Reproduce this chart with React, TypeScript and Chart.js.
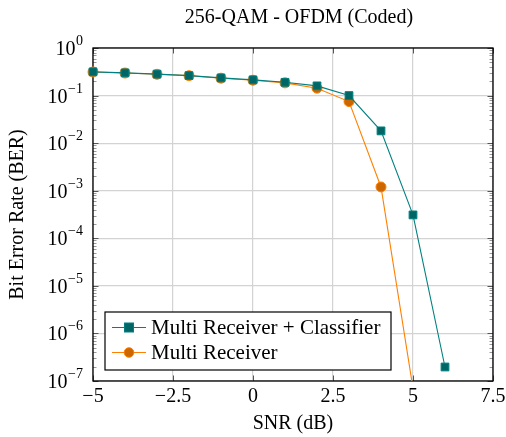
import React, { useEffect, useRef } from "react";
import { Chart, registerables } from "chart.js";

Chart.register(...registerables);

const chartTitle = "256-QAM - OFDM (Coded)";
const xAxisTitle = "SNR (dB)";
const yAxisTitle = "Bit Error Rate (BER)";
const seriesNames = ["Multi Receiver + Classifier", "Multi Receiver"];

const snrClassifier = [-5, -4, -3, -2, -1, 0, 1, 2, 3, 4, 5, 6];
const berClassifier = [0.315, 0.3, 0.282, 0.263, 0.235, 0.214, 0.19, 0.16, 0.1, 0.0181, 3.1e-4, 1.97e-7];
const snrMulti = [-5, -4, -3, -2, -1, 0, 1, 2, 3, 4, 5];
const berMulti = [0.313, 0.298, 0.28, 0.262, 0.232, 0.21, 0.185, 0.143, 0.0748, 1.2e-3, 7e-8];

const xTicks = [-5, -2.5, 0, 2.5, 5, 7.5];
const yExponents = [0, -1, -2, -3, -4, -5, -6, -7];

const FONT = "'Liberation Serif', 'DejaVu Serif', serif";
const TEAL = "rgb(0,128,128)";
const TEAL_FILL = "rgb(0,102,102)";
const ORANGE = "rgb(255,128,0)";
const ORANGE_FILL = "rgb(204,102,0)";

const fmt = (v: number) => (v < 0 ? "\u2212" + String(-v) : String(v));

const decorPlugin = {
  id: "decor",
  beforeDatasetsDraw(chart: any) {
    const { ctx, chartArea: a, scales } = chart;
    const xs = scales.x;
    const ys = scales.y;
    ctx.save();
    ctx.lineWidth = 1;
    for (const t of ys.ticks) {
      const y = Math.round(ys.getPixelForValue(t.value)) + 0.5;
      const len = t.major ? 5.5 : 3.5;
      ctx.strokeStyle = t.major ? "#555" : "#999";
      ctx.beginPath();
      ctx.moveTo(a.left, y);
      ctx.lineTo(a.left + len, y);
      ctx.moveTo(a.right, y);
      ctx.lineTo(a.right - len, y);
      ctx.stroke();
    }
    for (const t of xs.ticks) {
      const x = Math.round(xs.getPixelForValue(t.value)) + 0.5;
      ctx.strokeStyle = "#555";
      ctx.beginPath();
      ctx.moveTo(x, a.bottom);
      ctx.lineTo(x, a.bottom - 5.5);
      ctx.moveTo(x, a.top);
      ctx.lineTo(x, a.top + 5.5);
      ctx.stroke();
    }
    ctx.strokeStyle = "#000";
    ctx.lineWidth = 1.3;
    ctx.strokeRect(a.left, a.top, a.right - a.left, a.bottom - a.top);
    ctx.restore();
  },
  afterDraw(chart: any) {
    const { ctx, chartArea: a, scales } = chart;
    const xs = scales.x;
    const ys = scales.y;
    ctx.save();
    ctx.fillStyle = "#000";
    ctx.font = `20px ${FONT}`;
    ctx.textAlign = "center";
    ctx.textBaseline = "alphabetic";
    for (const v of xTicks) {
      ctx.fillText(fmt(v), xs.getPixelForValue(v), a.bottom + 21);
    }
    for (const e of yExponents) {
      const y = ys.getPixelForValue(Math.pow(10, e));
      const right = a.left - 10;
      ctx.font = `14px ${FONT}`;
      ctx.textAlign = "right";
      const expText = fmt(e);
      const ew = ctx.measureText(expText).width;
      ctx.fillText(expText, right, y - 3);
      ctx.font = `20px ${FONT}`;
      ctx.fillText("10", right - ew - 0.5, y + 7);
    }
    ctx.textAlign = "center";
    ctx.textBaseline = "middle";
    ctx.font = `20px ${FONT}`;
    ctx.fillText(chartTitle, (a.left + a.right) / 2 + 6, 18);
    ctx.fillText(xAxisTitle, (a.left + a.right) / 2, 424);
    ctx.save();
    ctx.translate(18, (a.top + a.bottom) / 2);
    ctx.rotate(-Math.PI / 2);
    ctx.fillText(yAxisTitle, 0, 0);
    ctx.restore();

    const bx = 105, by = 312, bw = 286, bh = 58;
    ctx.fillStyle = "#fff";
    ctx.fillRect(bx, by, bw, bh);
    ctx.strokeStyle = "#000";
    ctx.lineWidth = 1.2;
    ctx.strokeRect(bx, by, bw, bh);
    const rows = [327.5, 352.5];
    chart.data.datasets.forEach((ds: any, i: number) => {
      const y = rows[i];
      ctx.strokeStyle = ds.borderColor;
      ctx.lineWidth = 1.1;
      ctx.beginPath();
      ctx.moveTo(112, y);
      ctx.lineTo(146, y);
      ctx.stroke();
      ctx.fillStyle = ds.pointBackgroundColor;
      ctx.strokeStyle = ds.pointBorderColor;
      ctx.lineWidth = 1;
      if (ds.pointStyle === "rect") {
        ctx.fillRect(124.5, y - 4.5, 9, 9);
        ctx.strokeRect(124.5, y - 4.5, 9, 9);
      } else {
        ctx.beginPath();
        ctx.arc(129, y, 4.8, 0, Math.PI * 2);
        ctx.fill();
        ctx.stroke();
      }
      ctx.fillStyle = "#000";
      ctx.font = `21px ${FONT}`;
      ctx.textAlign = "left";
      ctx.textBaseline = "middle";
      ctx.fillText(ds.label, 151, y + 1);
    });
    ctx.restore();
  },
};

export default function App() {
  const ref = useRef<HTMLCanvasElement | null>(null);
  useEffect(() => {
    document.body.style.margin = "0";
    document.body.style.overflow = "hidden";
    const canvas = ref.current;
    if (!canvas) return;
    const chart = new Chart(canvas, {
      type: "line",
      data: {
        datasets: [
          {
            label: seriesNames[0],
            data: snrClassifier.map((x, i) => ({ x, y: berClassifier[i] })),
            borderColor: TEAL,
            backgroundColor: TEAL,
            pointBackgroundColor: TEAL_FILL,
            pointBorderColor: TEAL,
            pointStyle: "rect",
            pointRadius: 5.5,
            pointBorderWidth: 1,
            borderWidth: 1.1,
            tension: 0,
            clip: { left: 12, top: 12, right: 12, bottom: 0 },
          } as any,
          {
            label: seriesNames[1],
            data: snrMulti.map((x, i) => ({ x, y: berMulti[i] })),
            borderColor: ORANGE,
            backgroundColor: ORANGE,
            pointBackgroundColor: ORANGE_FILL,
            pointBorderColor: ORANGE,
            pointStyle: "circle",
            pointRadius: 5,
            pointBorderWidth: 1,
            borderWidth: 1.1,
            tension: 0,
            clip: { left: 12, top: 12, right: 12, bottom: 0 },
          } as any,
        ],
      },
      options: {
        animation: false,
        responsive: false,
        maintainAspectRatio: false,
        layout: { padding: { left: 93, right: 13, top: 48, bottom: 56 } },
        plugins: {
          legend: { display: false },
          title: { display: false },
          tooltip: { enabled: false },
        },
        scales: {
          x: {
            type: "linear",
            min: -5,
            max: 7.5,
            afterBuildTicks: (s: any) => {
              s.ticks = xTicks.map((v) => ({ value: v, major: true }));
            },
            afterFit: (s: any) => {
              s.height = 0;
            },
            ticks: { display: false },
            grid: { color: "#d3d3d3", lineWidth: 1.2, drawTicks: false },
            border: { display: false },
          },
          y: {
            type: "logarithmic",
            min: 1e-7,
            max: 1,
            afterBuildTicks: (s: any) => {
              const t: any[] = [];
              for (let e = -7; e <= 0; e++) {
                t.push({ value: Math.pow(10, e), major: true });
                if (e < 0) {
                  for (let m = 2; m <= 9; m++) t.push({ value: m * Math.pow(10, e), major: false });
                }
              }
              s.ticks = t;
            },
            afterFit: (s: any) => {
              s.width = 0;
            },
            ticks: { display: false },
            grid: {
              color: (c: any) => (c.tick && c.tick.major ? "#d3d3d3" : "rgba(0,0,0,0)"),
              lineWidth: 1.2,
              drawTicks: false,
            },
            border: { display: false },
          },
        },
      },
      plugins: [decorPlugin],
    });
    return () => chart.destroy();
  }, []);
  return (
    <div style={{ width: 506, height: 437 }}>
      <canvas ref={ref} width={506} height={437} style={{ display: "block" }} />
    </div>
  );
}
